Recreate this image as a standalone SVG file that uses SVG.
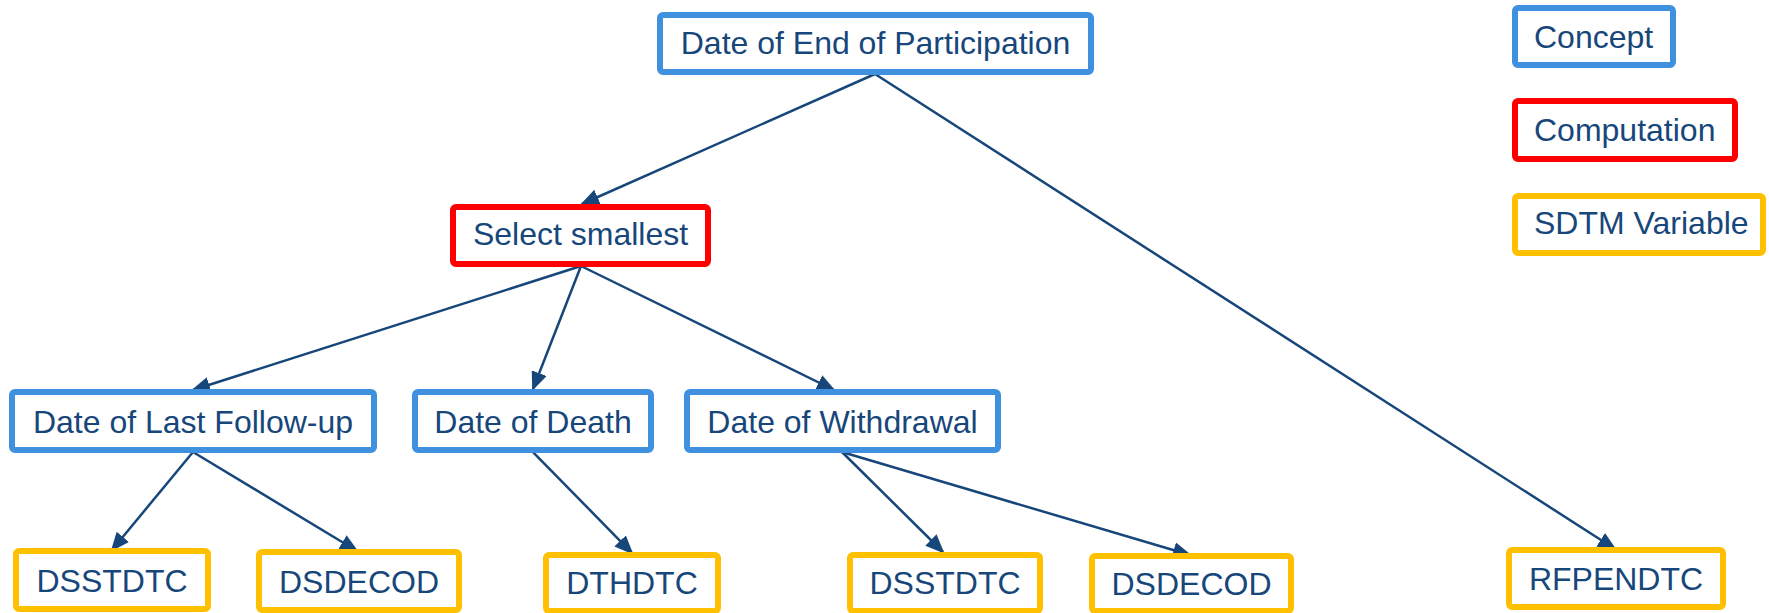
<svg xmlns="http://www.w3.org/2000/svg" width="1769" height="613" viewBox="0 0 1769 613">
<defs>
<style>
.box{fill:#ffffff;stroke-width:6;}
.concept{stroke:#3F90DF;}
.comp{stroke:#FF0000;}
.sdtm{stroke:#FFC000;}
text{font-family:"Liberation Sans",Arial,sans-serif;font-size:32px;fill:#17477A;}
.c{text-anchor:middle;}
.edge{stroke:#17477A;stroke-width:2.5;fill:none;marker-end:url(#arr);}
</style>
<marker id="arr" markerUnits="userSpaceOnUse" markerWidth="20" markerHeight="16" refX="17" refY="8" orient="auto">
<path d="M0,0 L19,8 L0,16 z" fill="#17477A"/>
</marker>
</defs>
<rect width="1769" height="613" fill="#ffffff"/>
<g id="connectors">
<line class="edge" x1="875" y1="74" x2="582" y2="204"/>
<line class="edge" x1="875" y1="74" x2="1615" y2="549"/>
<line class="edge" x1="581" y1="266" x2="193" y2="390"/>
<line class="edge" x1="581" y1="266" x2="533" y2="389"/>
<line class="edge" x1="581" y1="266" x2="834" y2="390"/>
<line class="edge" x1="193" y1="452" x2="112" y2="550"/>
<line class="edge" x1="193" y1="452" x2="357" y2="551"/>
<line class="edge" x1="533" y1="452" x2="632" y2="553"/>
<line class="edge" x1="842" y1="452" x2="943" y2="552"/>
<line class="edge" x1="842" y1="452" x2="1190" y2="555"/>
</g>
<g id="n-end-participation">
<rect class="box concept" x="660" y="15" width="431" height="57" rx="3"/>
<text class="c" x="875.5" y="54">Date of End of Participation</text>
</g>
<g id="n-select-smallest">
<rect class="box comp" x="453" y="207" width="255" height="57" rx="3"/>
<text class="c" x="580.5" y="245">Select smallest</text>
</g>
<g id="n-last-followup">
<rect class="box concept" x="12" y="392" width="362" height="58" rx="3"/>
<text class="c" x="193" y="433">Date of Last Follow-up</text>
</g>
<g id="n-death">
<rect class="box concept" x="415" y="392" width="236" height="58" rx="3"/>
<text class="c" x="533" y="433">Date of Death</text>
</g>
<g id="n-withdrawal">
<rect class="box concept" x="687" y="392" width="311" height="58" rx="3"/>
<text class="c" x="842.5" y="433">Date of Withdrawal</text>
</g>
<g id="n-dsstdtc-1">
<rect class="box sdtm" x="16" y="551" width="192" height="58" rx="3"/>
<text class="c" x="112" y="592">DSSTDTC</text>
</g>
<g id="n-dsdecod-1">
<rect class="box sdtm" x="259" y="552" width="200" height="58" rx="3"/>
<text class="c" x="359" y="593">DSDECOD</text>
</g>
<g id="n-dthdtc">
<rect class="box sdtm" x="546" y="555" width="172" height="56" rx="3"/>
<text class="c" x="632" y="594">DTHDTC</text>
</g>
<g id="n-dsstdtc-2">
<rect class="box sdtm" x="850" y="555" width="190" height="56" rx="3"/>
<text class="c" x="945" y="594">DSSTDTC</text>
</g>
<g id="n-dsdecod-2">
<rect class="box sdtm" x="1092" y="556" width="199" height="55" rx="3"/>
<text class="c" x="1191.5" y="595">DSDECOD</text>
</g>
<g id="n-rfpendtc">
<rect class="box sdtm" x="1509" y="550" width="214" height="57" rx="3"/>
<text class="c" x="1616" y="590">RFPENDTC</text>
</g>
<g id="legend-concept">
<rect class="box concept" x="1515" y="8" width="158" height="57" rx="3"/>
<text x="1534" y="48">Concept</text>
</g>
<g id="legend-computation">
<rect class="box comp" x="1515" y="101" width="220" height="58" rx="3"/>
<text x="1534" y="141">Computation</text>
</g>
<g id="legend-sdtm">
<rect class="box sdtm" x="1515" y="196" width="248" height="57" rx="3"/>
<text x="1534" y="234">SDTM Variable</text>
</g>
</svg>
